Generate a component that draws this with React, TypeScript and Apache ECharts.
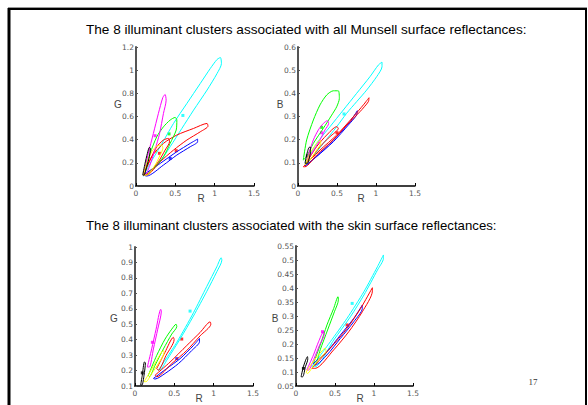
import React, { useEffect, useRef } from "react";
import * as echarts from "echarts";

const COLORS: Record<string, string> = {
  cyan: "#00ffff",
  magenta: "#ff00ff",
  green: "#00ff00",
  red: "#ff0000",
  blue: "#0000ff",
  yellow: "#ffff00",
  black: "#000000",
};

const TITLE_MUNSELL = "The 8 illuminant clusters associated with all Munsell surface reflectances:";
const TITLE_SKIN = "The 8 illuminant clusters associated with the skin surface reflectances:";
const PAGE_NUMBER = "17";

// ---------- Munsell, R vs G ----------
const munRG_cyan = [[0.094,0.086],[0.179,0.195],[0.307,0.339],[0.477,0.54],[0.647,0.713],[0.817,0.885],[0.945,1.015],[1.03,1.092],[1.073,1.109],[1.086,1.057],[1.03,0.971],[0.903,0.828],[0.732,0.655],[0.583,0.497],[0.434,0.339],[0.307,0.21],[0.157,0.109],[0.094,0.086]];
const munRG_magenta = [[0.094,0.095],[0.157,0.282],[0.221,0.454],[0.285,0.627],[0.341,0.764],[0.37,0.79],[0.383,0.741],[0.349,0.627],[0.3,0.454],[0.24,0.31],[0.17,0.167],[0.115,0.095],[0.094,0.095]];
const munRG_green = [[0.094,0.095],[0.179,0.282],[0.264,0.425],[0.349,0.511],[0.434,0.569],[0.498,0.592],[0.519,0.569],[0.511,0.483],[0.434,0.368],[0.349,0.253],[0.221,0.152],[0.115,0.095],[0.094,0.095]];
const munRG_red = [[0.094,0.095],[0.2,0.253],[0.349,0.368],[0.519,0.44],[0.732,0.497],[0.903,0.54],[0.915,0.517],[0.817,0.468],[0.647,0.397],[0.477,0.31],[0.307,0.21],[0.136,0.095],[0.094,0.095]];
const munRG_red2 = [[0.094,0.095],[0.179,0.224],[0.264,0.339],[0.349,0.397],[0.413,0.411],[0.426,0.382],[0.37,0.31],[0.285,0.21],[0.157,0.109],[0.094,0.095]];
const munRG_blue = [[0.094,0.095],[0.307,0.195],[0.519,0.296],[0.69,0.368],[0.783,0.405],[0.783,0.382],[0.69,0.339],[0.519,0.267],[0.349,0.181],[0.136,0.086],[0.094,0.095]];
const munRG_yellow = [[0.094,0.095],[0.136,0.195],[0.2,0.296],[0.264,0.345],[0.328,0.353],[0.341,0.325],[0.307,0.267],[0.243,0.181],[0.136,0.095],[0.094,0.095]];
const munRG_black = [[0.085,0.095],[0.115,0.195],[0.145,0.282],[0.17,0.333],[0.183,0.325],[0.17,0.253],[0.136,0.167],[0.102,0.095],[0.085,0.095]];
const munRG_centres = [[0.596,0.609,"cyan"],[0.243,0.434,"magenta"],[0.298,0.282,"red"],[0.511,0.305,"red"],[0.434,0.239,"blue"],[0.25,0.3,"yellow"],[0.42,0.45,"green"]];

// ---------- Munsell, R vs B ----------
const munRB_cyan = [[0.09,0.098],[0.239,0.184],[0.41,0.256],[0.581,0.328],[0.752,0.4],[0.923,0.472],[1.03,0.522],[1.077,0.535],[1.077,0.515],[1.009,0.472],[0.88,0.414],[0.752,0.364],[0.624,0.314],[0.496,0.256],[0.325,0.184],[0.154,0.112],[0.09,0.098]];
const munRB_green = [[0.068,0.112],[0.111,0.199],[0.197,0.285],[0.282,0.35],[0.368,0.393],[0.453,0.411],[0.517,0.411],[0.53,0.378],[0.496,0.342],[0.432,0.306],[0.325,0.249],[0.197,0.184],[0.111,0.127],[0.068,0.112]];
const munRB_magenta = [[0.111,0.112],[0.197,0.199],[0.261,0.242],[0.325,0.27],[0.376,0.282],[0.393,0.27],[0.346,0.242],[0.282,0.199],[0.175,0.141],[0.111,0.112]];
const munRB_red = [[0.068,0.083],[0.282,0.155],[0.496,0.22],[0.709,0.299],[0.838,0.35],[0.91,0.381],[0.902,0.364],[0.795,0.321],[0.624,0.263],[0.453,0.199],[0.239,0.134],[0.09,0.083],[0.068,0.083]];
const munRB_red2 = [[0.09,0.091],[0.239,0.17],[0.368,0.22],[0.496,0.256],[0.517,0.249],[0.41,0.213],[0.282,0.17],[0.154,0.112],[0.09,0.091]];
const munRB_blue = [[0.09,0.086],[0.282,0.141],[0.496,0.213],[0.667,0.278],[0.761,0.325],[0.752,0.306],[0.645,0.263],[0.453,0.191],[0.239,0.127],[0.09,0.086]];
const munRB_yellow = [[0.09,0.091],[0.154,0.141],[0.239,0.184],[0.282,0.199],[0.291,0.184],[0.239,0.155],[0.154,0.112],[0.09,0.091]];
const munRB_black = [[0.09,0.098],[0.111,0.134],[0.145,0.167],[0.162,0.167],[0.154,0.134],[0.12,0.098],[0.09,0.098]];
const munRB_centres = [[0.59,0.311,"cyan"],[0.303,0.253,"green"],[0.3,0.23,"magenta"],[0.12,0.13,"black"],[0.5,0.23,"red"]];

// ---------- Skin, R vs G ----------
const skinRG_cyan = [[0.297,0.202],[0.531,0.383],[0.743,0.574],[0.913,0.745],[1.04,0.872],[1.096,0.93],[1.104,0.915],[1.04,0.84],[0.913,0.713],[0.743,0.553],[0.573,0.404],[0.403,0.266],[0.34,0.213],[0.297,0.202]];
const skinRG_magenta = [[0.157,0.223],[0.212,0.34],[0.268,0.468],[0.327,0.596],[0.335,0.585],[0.289,0.468],[0.234,0.34],[0.183,0.223],[0.157,0.223]];
const skinRG_green = [[0.17,0.17],[0.276,0.298],[0.382,0.404],[0.467,0.468],[0.522,0.5],[0.531,0.485],[0.467,0.436],[0.361,0.34],[0.255,0.234],[0.183,0.16],[0.17,0.17]];
const skinRG_red2 = [[0.276,0.213],[0.382,0.319],[0.488,0.415],[0.497,0.4],[0.395,0.298],[0.297,0.202],[0.276,0.213]];
const skinRG_red = [[0.255,0.17],[0.446,0.255],[0.658,0.362],[0.828,0.447],[0.955,0.515],[0.964,0.5],[0.828,0.425],[0.658,0.33],[0.467,0.245],[0.276,0.16],[0.255,0.17]];
const skinRG_blue = [[0.234,0.149],[0.403,0.213],[0.573,0.277],[0.743,0.362],[0.82,0.408],[0.82,0.387],[0.722,0.33],[0.552,0.245],[0.382,0.181],[0.255,0.145],[0.234,0.149]];
const skinRG_yellow = [[0.115,0.128],[0.191,0.191],[0.276,0.266],[0.361,0.33],[0.369,0.315],[0.297,0.245],[0.212,0.181],[0.14,0.128],[0.115,0.128]];
const skinRG_black = [[0.072,0.106],[0.093,0.17],[0.119,0.255],[0.132,0.251],[0.115,0.17],[0.089,0.106],[0.072,0.106]];
const skinRG_centres = [[0.7,0.585,"cyan"],[0.221,0.383,"magenta"],[0.594,0.404,"red"],[0.531,0.277,"blue"],[0.093,0.185,"black"]];

// ---------- Skin, R vs B ----------
const skinRB_cyan = [[0.203,0.119],[0.44,0.208],[0.655,0.292],[0.871,0.387],[1.044,0.476],[1.121,0.518],[1.121,0.506],[1.044,0.464],[0.871,0.375],[0.699,0.298],[0.483,0.214],[0.246,0.119],[0.203,0.119]];
const skinRB_green = [[0.224,0.131],[0.31,0.196],[0.397,0.268],[0.483,0.327],[0.539,0.369],[0.543,0.357],[0.492,0.315],[0.405,0.25],[0.31,0.179],[0.246,0.125],[0.224,0.131]];
const skinRB_magenta = [[0.138,0.107],[0.224,0.161],[0.289,0.208],[0.354,0.244],[0.362,0.235],[0.302,0.196],[0.233,0.149],[0.16,0.107],[0.138,0.107]];
const skinRB_blue = [[0.224,0.131],[0.397,0.173],[0.569,0.232],[0.742,0.292],[0.85,0.339],[0.85,0.327],[0.742,0.28],[0.569,0.22],[0.397,0.161],[0.246,0.125],[0.224,0.131]];
const skinRB_red = [[0.203,0.113],[0.44,0.185],[0.655,0.256],[0.828,0.327],[0.979,0.401],[0.979,0.389],[0.85,0.315],[0.677,0.244],[0.483,0.179],[0.246,0.113],[0.203,0.113]];
const skinRB_yellow = [[0.129,0.099],[0.203,0.131],[0.289,0.161],[0.375,0.185],[0.384,0.175],[0.302,0.149],[0.216,0.119],[0.147,0.095],[0.129,0.099]];
const skinRB_black = [[0.065,0.083],[0.095,0.119],[0.129,0.146],[0.147,0.155],[0.151,0.146],[0.121,0.119],[0.086,0.083],[0.065,0.083]];
const skinRB_centres = [[0.72,0.345,"cyan"],[0.34,0.244,"magenta"],[0.655,0.268,"red"],[0.095,0.113,"black"]];

// axis ranges
const X_RANGE = [0, 1.5, 0.5];
const Y_RANGES = [
  [0, 1.2, 0.2],
  [0, 0.6, 0.1],
  [0.1, 1, 0.1],
  [0.05, 0.55, 0.05],
];
const Y_NAMES = ["G", "B", "G", "B"];
const X_NAME = "R";

const PANELS: { loops: [string, number[][]][]; centres: any[] }[] = [
  {
    loops: [["cyan", munRG_cyan], ["blue", munRG_blue], ["red", munRG_red], ["green", munRG_green], ["red", munRG_red2], ["magenta", munRG_magenta], ["yellow", munRG_yellow], ["black", munRG_black]],
    centres: munRG_centres,
  },
  {
    loops: [["cyan", munRB_cyan], ["green", munRB_green], ["blue", munRB_blue], ["red", munRB_red], ["red", munRB_red2], ["magenta", munRB_magenta], ["yellow", munRB_yellow], ["black", munRB_black]],
    centres: munRB_centres,
  },
  {
    loops: [["cyan", skinRG_cyan], ["blue", skinRG_blue], ["red", skinRG_red], ["green", skinRG_green], ["red", skinRG_red2], ["magenta", skinRG_magenta], ["yellow", skinRG_yellow], ["black", skinRG_black]],
    centres: skinRG_centres,
  },
  {
    loops: [["cyan", skinRB_cyan], ["green", skinRB_green], ["blue", skinRB_blue], ["red", skinRB_red], ["magenta", skinRB_magenta], ["yellow", skinRB_yellow], ["black", skinRB_black]],
    centres: skinRB_centres,
  },
];

const GRIDS = [
  { left: 136, top: 47, width: 118, height: 139 },
  { left: 298, top: 47, width: 117, height: 139 },
  { left: 135, top: 247, width: 118, height: 139 },
  { left: 296, top: 246, width: 117, height: 140 },
];

const fmt = (v: number) => String(parseFloat(v.toFixed(2)));

export default function App() {
  const ref = useRef<HTMLDivElement>(null);
  useEffect(() => {
    if (!ref.current) return;
    const chart = echarts.init(ref.current, undefined, { renderer: "svg" });
    const tickFont = { fontFamily: "DejaVu Sans", fontSize: 7.5, color: "#555" };

    const xAxis = GRIDS.map((_, i) => ({
      type: "value",
      gridIndex: i,
      min: X_RANGE[0],
      max: X_RANGE[1],
      interval: X_RANGE[2],
      axisLine: { show: true, onZero: false, lineStyle: { color: "#000", width: 1.5 } },
      axisTick: { show: true, inside: true, length: 3, lineStyle: { color: "#000" } },
      axisLabel: { ...tickFont, margin: 3, formatter: fmt },
      splitLine: { show: false },
    }));
    const yAxis = GRIDS.map((_, i) => ({
      type: "value",
      gridIndex: i,
      min: Y_RANGES[i][0],
      max: Y_RANGES[i][1],
      interval: Y_RANGES[i][2],
      axisLine: { show: true, onZero: false, lineStyle: { color: "#555", width: 2 } },
      axisTick: { show: true, inside: true, length: 2, lineStyle: { color: "#555" } },
      axisLabel: { ...tickFont, margin: 2, formatter: fmt },
      splitLine: { show: false },
    }));

    const series: any[] = [];
    PANELS.forEach((p, i) => {
      p.loops.forEach(([c, pts]) => {
        series.push({
          type: "line",
          xAxisIndex: i,
          yAxisIndex: i,
          data: pts,
          showSymbol: false,
          silent: true,
          smooth: 0.25,
          lineStyle: { color: COLORS[c], width: 1 },
          itemStyle: { color: COLORS[c] },
        });
      });
      series.push({
        type: "scatter",
        xAxisIndex: i,
        yAxisIndex: i,
        silent: true,
        symbol: "rect",
        symbolSize: 3,
        data: p.centres.map((d: any) => ({ value: [d[0], d[1]], itemStyle: { color: COLORS[d[2]] } })),
      });
    });

    const nameStyle = { fontFamily: "Liberation Sans", fontSize: 10, fill: "#444" };
    const yNamePos = [[118, 104], [280, 104], [114, 318], [275, 318]];
    const xNamePos = [[201, 198], [361, 198], [199, 398], [360, 398]];
    const graphic: any[] = [
      { type: "line", shape: { x1: 8, y1: 7.5, x2: 587, y2: 7.5 }, style: { stroke: "#999", lineWidth: 1 } },
      { type: "line", shape: { x1: 8, y1: 9, x2: 587, y2: 9 }, style: { stroke: "#000", lineWidth: 2 } },
      { type: "line", shape: { x1: 9, y1: 8, x2: 9, y2: 405 }, style: { stroke: "#000", lineWidth: 3 } },
      { type: "line", shape: { x1: 586, y1: 8, x2: 586, y2: 405 }, style: { stroke: "#000", lineWidth: 2 } },
      { type: "text", x: 86, y: 29, style: { text: TITLE_MUNSELL, fontFamily: "Liberation Sans", fontSize: 13.6, fill: "#000", verticalAlign: "middle" } },
      { type: "text", x: 86, y: 225, style: { text: TITLE_SKIN, fontFamily: "Liberation Sans", fontSize: 13.2, fill: "#000", verticalAlign: "middle" } },
      { type: "text", x: 533, y: 382, style: { text: PAGE_NUMBER, fontFamily: "Liberation Serif", fontSize: 9, fill: "#333", align: "center", verticalAlign: "middle" } },
    ];
    yNamePos.forEach((pos, i) =>
      graphic.push({ type: "text", x: pos[0], y: pos[1], style: { ...nameStyle, text: Y_NAMES[i], align: "center", verticalAlign: "middle" } })
    );
    xNamePos.forEach((pos) =>
      graphic.push({ type: "text", x: pos[0], y: pos[1], style: { ...nameStyle, text: X_NAME, align: "center", verticalAlign: "middle" } })
    );

    chart.setOption({
      animation: false,
      backgroundColor: "#fff",
      grid: GRIDS.map((g) => ({ ...g, containLabel: false })),
      xAxis,
      yAxis,
      series,
      graphic,
    });
    return () => chart.dispose();
  }, []);
  return <div ref={ref} style={{ position: "fixed", left: 0, top: 0, width: 588, height: 405 }} />;
}
